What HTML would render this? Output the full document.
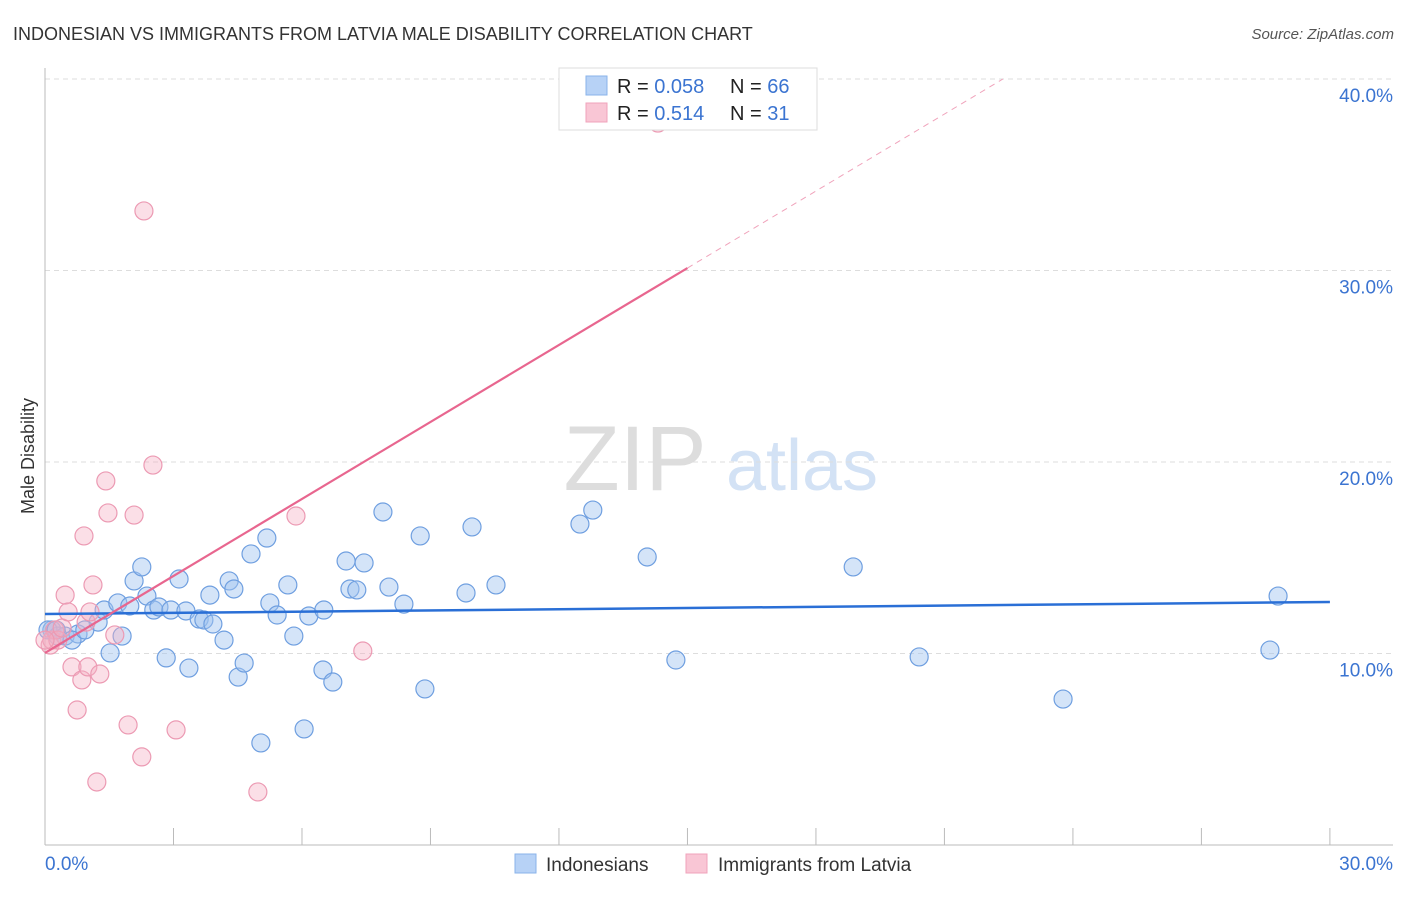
<!DOCTYPE html>
<html><head><meta charset="utf-8"><style>
body{margin:0;background:#fff;font-family:"Liberation Sans",sans-serif}
svg text{font-family:"Liberation Sans",sans-serif}
</style></head><body>
<svg id="chart" width="1406" height="892" xmlns="http://www.w3.org/2000/svg">
<text x="13" y="40" font-size="18" fill="#333">INDONESIAN VS IMMIGRANTS FROM LATVIA MALE DISABILITY CORRELATION CHART</text>
<text x="1394" y="39" font-size="15" fill="#555" text-anchor="end" font-style="italic">Source: ZipAtlas.com</text>
<text transform="translate(34,456) rotate(-90)" font-size="18" fill="#333" text-anchor="middle">Male Disability</text>
<g>
<text x="635" y="490" font-size="92" fill="#ddd" font-family="Liberation Serif" text-anchor="middle">ZIP</text>
<text x="802" y="490" font-size="72" fill="#d3e2f5" text-anchor="middle">atlas</text>
</g>
<g id="grid"></g>
<g id="axes"></g>
<g id="points"></g>
<g id="trends"></g>
<g>
<rect x="559" y="68" width="258" height="62" fill="#fff" stroke="#ddd"/>
<rect x="586" y="76" width="21" height="19" fill="#b7d2f6" stroke="#8ab3ea"/>
<rect x="586" y="103" width="21" height="19" fill="#f9c6d5" stroke="#f0a3bb"/>
<text x="617" y="93" font-size="20" fill="#222">R = <tspan fill="#3b74d1">0.058</tspan></text>
<text x="730" y="93" font-size="20" fill="#222">N = <tspan fill="#3b74d1">66</tspan></text>
<text x="617" y="120" font-size="20" fill="#222">R = <tspan fill="#3b74d1"> 0.514</tspan></text>
<text x="730" y="120" font-size="20" fill="#222">N = <tspan fill="#3b74d1"> 31</tspan></text>
</g>
<g>
<rect x="515" y="854" width="21" height="19" fill="#b7d2f6" stroke="#8ab3ea"/>
<text x="546" y="871" font-size="19" fill="#333">Indonesians</text>
<rect x="686" y="854" width="21" height="19" fill="#f9c6d5" stroke="#f0a3bb"/>
<text x="718" y="871" font-size="19" fill="#333">Immigrants from Latvia</text>
</g>
</svg>
<script>
const blueX=[0.16,0.30,0.47,0.77,1.24,1.38,1.52,1.70,1.80,1.98,2.08,2.26,2.38,2.54,2.66,2.83,2.94,3.13,3.29,3.36,3.60,3.71,3.85,3.92,4.18,4.30,4.41,4.51,4.65,4.81,5.04,5.18,5.25,5.42,5.67,5.81,6.05,6.16,6.49,6.51,6.72,7.03,7.12,7.28,7.45,7.89,8.03,8.38,8.76,8.87,9.83,9.97,10.53,12.49,12.79,14.06,14.73,18.87,20.41,23.77,28.60,28.79,0.07,0.26,0.63,0.93];
const blueY=[11.23,10.91,10.91,11.02,11.64,12.27,10.03,12.64,10.91,12.48,13.79,14.52,13.00,12.27,12.43,9.77,12.27,13.89,12.22,9.24,11.80,11.75,13.05,11.54,10.70,13.79,13.37,8.77,9.50,15.20,5.33,16.03,12.64,12.01,13.58,10.91,6.06,11.96,9.14,12.27,8.51,14.83,13.37,13.32,14.73,17.39,13.47,12.58,16.14,8.15,13.16,16.61,13.58,16.76,17.49,15.04,9.66,14.52,9.82,7.62,10.18,13.00,11.23,11.23,10.70,11.23];
const pinkX=[0.12,0.16,0.23,0.30,0.40,0.47,0.54,0.63,0.75,0.86,0.96,1.00,1.05,1.12,1.28,1.42,1.47,1.63,1.94,2.08,2.26,2.31,2.52,3.06,4.97,5.86,7.42,14.31,0.91,1.21,0.00];
const pinkY=[10.44,10.70,11.23,10.70,11.33,13.05,12.17,9.30,7.05,8.62,11.64,9.30,12.17,13.58,8.93,19.01,17.34,10.97,6.27,17.23,4.60,33.11,19.84,6.01,2.77,17.18,10.13,37.70,16.14,3.29,10.70];
const yTicks=[10,20,30,40];
const yTickLabels=["10.0%","20.0%","30.0%","40.0%"];
const xTicks=[3,6,9,12,15,18,21,24,27,30];
const blueTrend=[12.06,12.69];
const pinkTrend=[10.03,1.34];

const X=v=>45+v*42.83, Y=v=>845-v*19.15;
const NS="http://www.w3.org/2000/svg";
function mk(tag,attrs,parent){const e=document.createElementNS(NS,tag);for(const k in attrs)e.setAttribute(k,attrs[k]);document.getElementById(parent).appendChild(e);return e;}
yTicks.forEach((t,i)=>{
 const l=mk('line',{x1:45,x2:1393,y1:Y(t),y2:Y(t),stroke:'#ddd','stroke-dasharray':'5,4'},'grid');
 
 
 const tx=mk('text',{x:1393,y:Y(t)+23,'font-size':19,fill:'#3b74d1','text-anchor':'end'},'grid');
 tx.textContent=yTickLabels[i];
 
 
});
let a=mk('line',{x1:45,x2:45,y1:68,y2:845,stroke:'#bbb'},'axes');


a=mk('line',{x1:45,x2:1393,y1:845,y2:845,stroke:'#bbb'},'axes');


xTicks.forEach(t=>{const l=mk('line',{x1:X(t),x2:X(t),y1:828,y2:845,stroke:'#bbb'},'axes');
 
 });
let t0=mk('text',{x:45,y:870,'font-size':19,fill:'#3b74d1'},'axes');t0.textContent='0.0%';


let t1=mk('text',{x:1393,y:870,'font-size':19,fill:'#3b74d1','text-anchor':'end'},'axes');t1.textContent='30.0%';


blueX.forEach((x,i)=>{const c=mk('circle',{cx:X(x),cy:Y(blueY[i]),r:9,fill:'rgba(160,195,240,0.45)',stroke:'#6f9fe0','stroke-width':1.2},'points');
 
 });
pinkX.forEach((x,i)=>{const c=mk('circle',{cx:X(x),cy:Y(pinkY[i]),r:9,fill:'rgba(245,175,195,0.4)',stroke:'#ec9ab3','stroke-width':1.2},'points');
 
 });
let b=mk('line',{x1:X(0),y1:Y(blueTrend[0]),x2:X(30),y2:Y(blueTrend[1]),stroke:'#2a6fd6','stroke-width':2.5},'trends');


const pf=x=>pinkTrend[0]+pinkTrend[1]*x;
let p=mk('line',{x1:X(0),y1:Y(pf(0)),x2:X(15),y2:Y(pf(15)),stroke:'#e8668f','stroke-width':2.2},'trends');


const xe=(40-pinkTrend[0])/pinkTrend[1];
p=mk('line',{x1:X(15),y1:Y(pf(15)),x2:X(xe),y2:Y(pf(xe)),stroke:'#f0a3bb','stroke-width':1,'stroke-dasharray':'6,5'},'trends');


</script>
</body></html>
